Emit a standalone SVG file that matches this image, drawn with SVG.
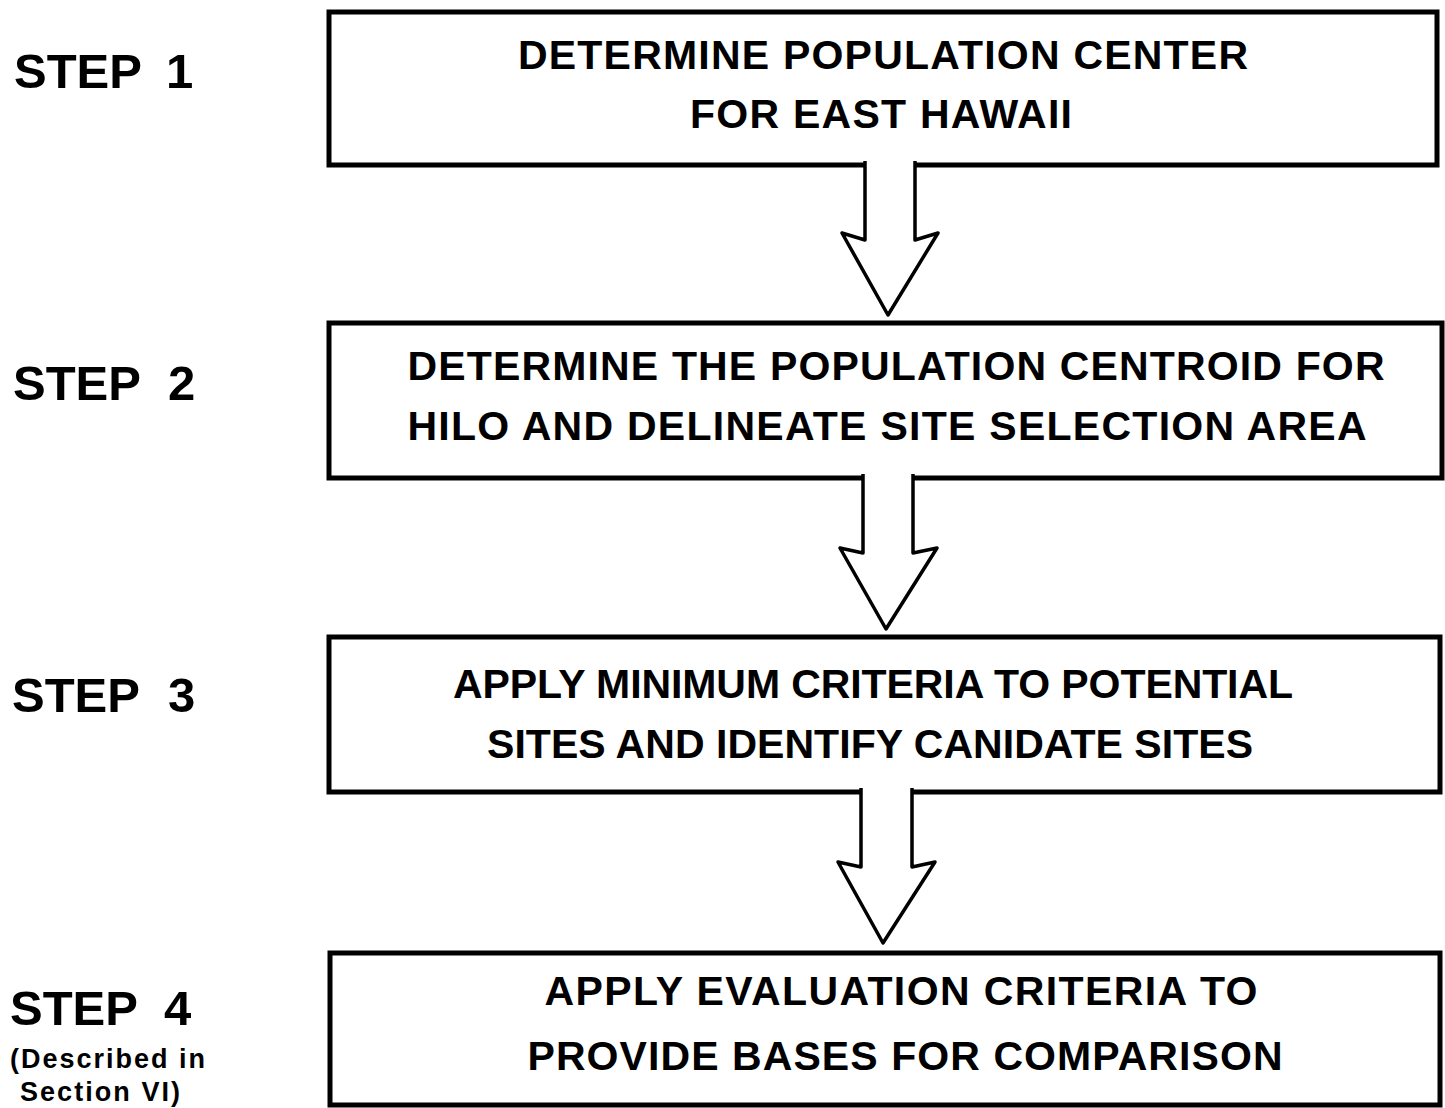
<svg xmlns="http://www.w3.org/2000/svg" width="1445" height="1108" viewBox="0 0 1445 1108">
<style>
.box{fill:#fff;stroke:#000;stroke-width:5}
.arr{fill:#fff;stroke:#000;stroke-width:3.5;stroke-linejoin:round}
.t{font-family:"Liberation Sans",Arial,sans-serif;font-weight:bold;font-size:41px;fill:#000;text-anchor:middle}
.s{font-family:"Liberation Sans",Arial,sans-serif;font-weight:bold;font-size:49px;fill:#000}
.n{font-family:"Liberation Sans",Arial,sans-serif;font-weight:bold;font-size:27px;fill:#000}
</style>
<rect width="1445" height="1108" fill="#fff"/>
<g id="step-labels">
<text class="s" x="14" y="88">STEP <tspan x="166">1</tspan></text>
<text class="s" x="13" y="400">STEP <tspan x="168">2</tspan></text>
<text class="s" x="12" y="712">STEP <tspan x="168">3</tspan></text>
<text class="s" x="10" y="1025">STEP <tspan x="164">4</tspan></text>
<text class="n" x="10" y="1068" textLength="195" lengthAdjust="spacing">(Described in</text>
<text class="n" x="20" y="1101" textLength="160" lengthAdjust="spacing">Section VI)</text>
</g>
<g id="node1">
<rect class="box" x="329" y="12" width="1108" height="153"/>
<text class="t" x="883" y="69" textLength="730" lengthAdjust="spacing">DETERMINE POPULATION CENTER</text>
<text class="t" x="881" y="128" textLength="382" lengthAdjust="spacing">FOR EAST HAWAII</text>
</g>
<g id="node2">
<rect class="box" x="329" y="323" width="1113" height="155"/>
<text class="t" x="896" y="380" textLength="977" lengthAdjust="spacing">DETERMINE THE POPULATION CENTROID FOR</text>
<text class="t" x="887" y="440" textLength="959" lengthAdjust="spacing">HILO AND DELINEATE SITE SELECTION AREA</text>
</g>
<g id="node3">
<rect class="box" x="329" y="637" width="1111" height="155"/>
<text class="t" x="873" y="698" textLength="840" lengthAdjust="spacing">APPLY MINIMUM CRITERIA TO POTENTIAL</text>
<text class="t" x="870" y="758" textLength="766" lengthAdjust="spacing">SITES AND IDENTIFY CANIDATE SITES</text>
</g>
<g id="node4">
<rect class="box" x="330" y="953" width="1110" height="152"/>
<text class="t" x="901" y="1005" textLength="713" lengthAdjust="spacing">APPLY EVALUATION CRITERIA TO</text>
<text class="t" x="905" y="1070" textLength="755" lengthAdjust="spacing">PROVIDE BASES FOR COMPARISON</text>
</g>
<g id="connectors">
<path class="arr" d="M865,161 L865,240 L842,233 L888,315 L938,233 L915,240 L915,161"/>
<path class="arr" d="M863,474 L863,553 L840,548 L886,629 L937,548 L913,553 L913,474"/>
<path class="arr" d="M861,788 L861,867 L838,862 L883,943 L935,862 L912,867 L912,788"/>
</g>
</svg>
